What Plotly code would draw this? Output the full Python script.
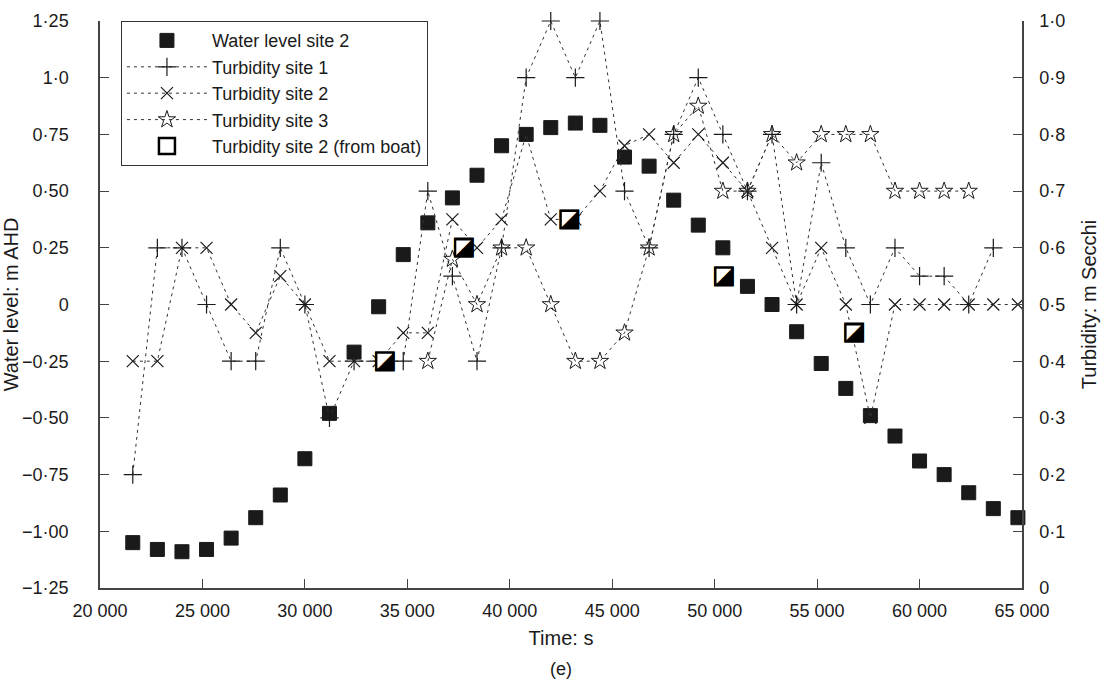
import plotly.graph_objects as go

# ---------------- data ----------------
time_s = [21600, 22800, 24000, 25200, 26400, 27600, 28800, 30000, 31200, 32400,
          33600, 34800, 36000, 37200, 38400, 39600, 40800, 42000, 43200, 44400,
          45600, 46800, 48000, 49200, 50400, 51600, 52800, 54000, 55200, 56400,
          57600, 58800, 60000, 61200, 62400, 63600, 64800]

water_level_site2 = [-1.05, -1.08, -1.09, -1.08, -1.03, -0.94, -0.84, -0.68, -0.48, -0.21,
                     -0.01, 0.22, 0.36, 0.47, 0.57, 0.70, 0.75, 0.78, 0.80, 0.79,
                     0.65, 0.61, 0.46, 0.35, 0.25, 0.08, 0.00, -0.12, -0.26, -0.37,
                     -0.49, -0.58, -0.69, -0.75, -0.83, -0.90, -0.94]

turbidity_site1 = [0.2, 0.6, 0.6, 0.5, 0.4, 0.4, 0.6, 0.5, 0.3, 0.4,
                   0.4, 0.4, 0.7, 0.55, 0.4, 0.6, 0.9, 1.0, 0.9, 1.0,
                   0.7, 0.6, 0.8, 0.9, 0.8, 0.7, 0.8, 0.5, 0.75, 0.6,
                   0.5, 0.6, 0.55, 0.55, 0.5, 0.6, None]

turbidity_site2 = [0.4, 0.4, 0.6, 0.6, 0.5, 0.45, 0.55, 0.5, 0.4, 0.4,
                   0.4, 0.45, 0.45, 0.65, 0.6, 0.65, 0.8, 0.65, 0.65, 0.7,
                   0.78, 0.8, 0.75, 0.8, 0.75, 0.7, 0.6, 0.5, 0.6, 0.5,
                   0.3, 0.5, 0.5, 0.5, 0.5, 0.5, 0.5]

turbidity_site3 = [None, None, None, None, None, None, None, None, None, None,
                   None, None, 0.4, 0.58, 0.5, 0.6, 0.6, 0.5, 0.4, 0.4,
                   0.45, 0.6, 0.8, 0.85, 0.7, 0.7, 0.8, 0.75, 0.8, 0.8,
                   0.8, 0.7, 0.7, 0.7, 0.7, None, None]

boat_time_s = [33900, 37750, 42900, 50450, 56800]
turbidity_site2_boat = [0.4, 0.6, 0.65, 0.55, 0.45]

x_tickvals = [20000, 25000, 30000, 35000, 40000, 45000, 50000, 55000, 60000, 65000]
x_ticktext = ["20 000", "25 000", "30 000", "35 000", "40 000", "45 000",
              "50 000", "55 000", "60 000", "65 000"]
y_tickvals = [1.25, 1.0, 0.75, 0.5, 0.25, 0, -0.25, -0.5, -0.75, -1.0, -1.25]
y_ticktext = ["1·25", "1·0", "0·75", "0·50", "0·25", "0", "−0·25", "−0·50",
              "−0·75", "−1·00", "−1·25"]
y2_tickvals = [0, 0.1, 0.2, 0.3, 0.4, 0.5, 0.6, 0.7, 0.8, 0.9, 1.0]
y2_ticktext = ["0", "0·1", "0·2", "0·3", "0·4", "0·5", "0·6", "0·7", "0·8", "0·9", "1·0"]

# ---------------- styling ----------------
INK = "#1a1a1a"
AXIS = "#444444"
FONT = "Liberation Sans, Arial, sans-serif"
dash_line = dict(color="#333333", width=1, dash="3px,4px")

fig = go.Figure()

fig.add_trace(go.Scatter(
    x=time_s, y=turbidity_site1, name="Turbidity site 1", yaxis="y2",
    mode="lines+markers", line=dash_line, legendrank=2, cliponaxis=False,
    marker=dict(symbol="cross-thin-open", size=13, color=INK, line=dict(width=1.2, color=INK)),
))
fig.add_trace(go.Scatter(
    x=time_s, y=turbidity_site2, name="Turbidity site 2", yaxis="y2",
    mode="lines+markers", line=dash_line, legendrank=3, cliponaxis=False,
    marker=dict(symbol="x-thin-open", size=12, color=INK, line=dict(width=1.2, color=INK)),
))
fig.add_trace(go.Scatter(
    x=time_s, y=turbidity_site3, name="Turbidity site 3", yaxis="y2",
    mode="lines+markers", line=dash_line, legendrank=4, cliponaxis=False,
    marker=dict(symbol="star-open", size=13, color=INK, line=dict(width=1, color=INK)),
))
fig.add_trace(go.Scatter(
    x=time_s, y=water_level_site2, name="Water level site 2", yaxis="y",
    mode="markers", legendrank=1, cliponaxis=False,
    marker=dict(symbol="square", size=14, color=INK, line=dict(width=1, color=INK)),
))
# boat readings: white square with heavy outline, lower-right half black (glyph U+25EA on top)
fig.add_trace(go.Scatter(
    x=boat_time_s, y=turbidity_site2_boat, yaxis="y2", mode="markers",
    marker=dict(symbol="square", size=17, color="white", line=dict(width=2.2, color="#000000")),
    showlegend=False, legendgroup="boat", cliponaxis=False, hoverinfo="skip",
))
fig.add_trace(go.Scatter(
    x=boat_time_s, y=turbidity_site2_boat, yaxis="y2", mode="text",
    text=["◪"] * len(boat_time_s), textposition="middle center",
    textfont=dict(family="DejaVu Sans", size=26, color="#000000"),
    showlegend=False, legendgroup="boat", cliponaxis=False, hoverinfo="skip",
))
fig.add_trace(go.Scatter(
    x=[None], y=[None], yaxis="y2", mode="markers", name="Turbidity site 2 (from boat)",
    legendgroup="boat", legendrank=5,
    marker=dict(symbol="square", size=16, color="white", line=dict(width=2.5, color="#000000")),
))

axis_common = dict(
    showgrid=False, zeroline=False, showline=True, linecolor=AXIS, linewidth=1.5,
    ticks="inside", ticklen=9, tickwidth=1.2, tickcolor=AXIS, automargin=False,
    tickfont=dict(family=FONT, size=18, color=INK),
)

fig.update_layout(
    width=1107, height=684,
    margin=dict(l=100, r=85, t=21, b=96, autoexpand=False),
    paper_bgcolor="white", plot_bgcolor="white",
    font=dict(family=FONT, size=18, color=INK),
    showlegend=True,
    legend=dict(
        x=0.0225, y=1.0, xanchor="left", yanchor="top",
        bordercolor="#333333", borderwidth=1.2, bgcolor="white",
        font=dict(family=FONT, size=18, color=INK),
        itemwidth=80, tracegroupgap=0,
    ),
    xaxis=dict(
        range=[20000, 65000], tickvals=x_tickvals, ticktext=x_ticktext,
        title=dict(text="Time: s", font=dict(family=FONT, size=20, color=INK), standoff=11),
        ticklabelstandoff=6,
        **axis_common,
    ),
    yaxis=dict(
        range=[-1.25, 1.25], tickvals=y_tickvals, ticktext=y_ticktext,
        title=dict(text="Water level: m AHD", font=dict(family=FONT, size=20, color=INK), standoff=2),
        ticklabelstandoff=26,
        **axis_common,
    ),
    yaxis2=dict(
        range=[0, 1.0], tickvals=y2_tickvals, ticktext=y2_ticktext,
        overlaying="y", side="right", anchor="x",
        title=dict(text="Turbidity: m Secchi", font=dict(family=FONT, size=20, color=INK), standoff=18),
        ticklabelstandoff=12,
        **axis_common,
    ),
    annotations=[dict(
        text="(e)", x=0.5, y=-0.142, xref="paper", yref="paper",
        xanchor="center", yanchor="middle", showarrow=False,
        font=dict(family=FONT, size=18, color=INK),
    )],
)

fig.write_html("out.html")
